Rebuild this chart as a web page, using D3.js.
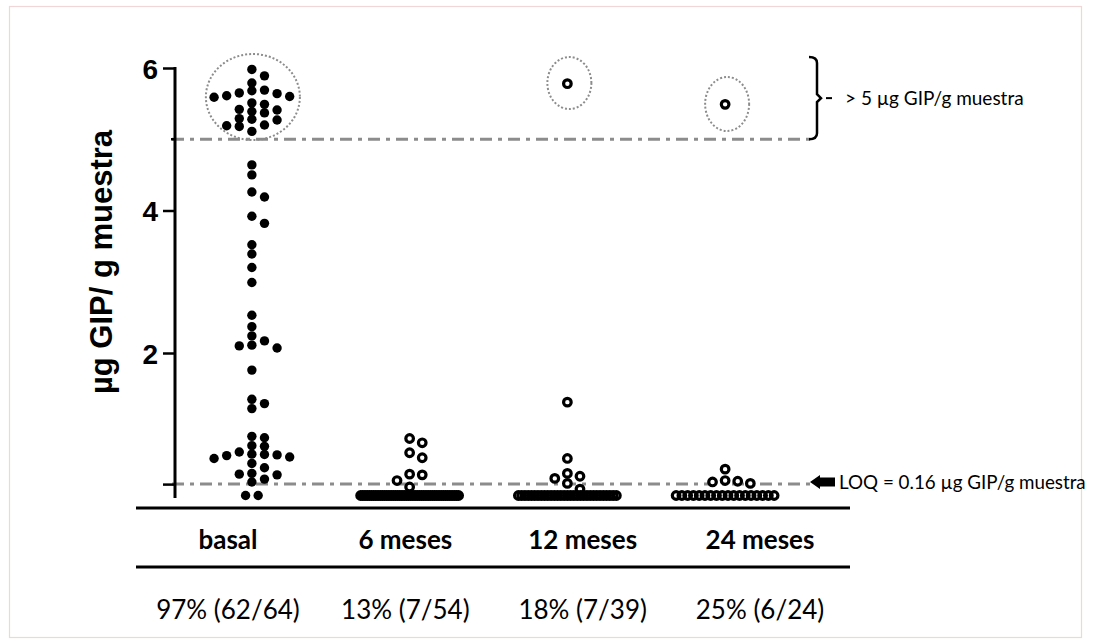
<!DOCTYPE html>
<html><head><meta charset="utf-8">
<script src="https://cdn.jsdelivr.net/npm/d3@7"></script>
<style>body{margin:0;background:#fff} svg{display:block}</style>
</head><body><svg id="c" width="1094" height="644"></svg>
<script>
// ---------- data ----------
const categories = ["basal", "6 meses", "12 meses", "24 meses"];
const pctLabels = ["97% (62/64)", "13% (7/54)", "18% (7/39)", "25% (6/24)"];
const yTicks = [6, 4, 2];
const LOQ = 0.16;
const THRESH = 5;
const basal = [5.98, 5.89, 5.79, 5.65, 5.61, 5.68, 5.59, 5.69, 5.60, 5.64, 5.49, 5.51, 5.41, 5.39, 5.28, 5.29, 5.19, 5.27, 5.37, 5.42, 5.18, 5.20, 5.11,
  4.64, 4.50, 4.26, 4.19, 3.92, 3.82, 3.52, 3.39, 3.20, 2.99, 2.53, 2.37,
  2.24, 2.10, 2.07, 2.11, 2.17, 1.76, 1.35, 1.22, 1.29, 0.83, 0.81, 0.69, 0.70, 0.61, 0.58, 0.57, 0.54, 0.52, 0.56, 0.575, 0.45, 0.39, 0.30, 0.23, 0.19, 0.29, 0.31, 0, 0];
const m6 = [0.80, 0.74, 0.60, 0.53, 0.30, 0.29, 0.21, 0.12,
  0,0,0,0,0,0,0,0,0,0, 0,0,0,0,0,0,0,0,0,0, 0,0,0,0,0,0,0,0,0,0, 0,0,0,0,0,0,0,0,0,0, 0,0,0,0,0,0];
const m12 = [5.78, 1.31, 0.52, 0.31, 0.27, 0.24, 0.17, 0.09,
  0,0,0,0,0,0,0,0,0,0, 0,0,0,0,0,0,0,0,0,0, 0,0,0,0,0,0,0,0,0,0, 0];
const m24 = [5.49, 0.37, 0.21, 0.20, 0.19, 0.17,
  0,0,0,0,0,0,0,0,0,0, 0,0,0,0,0,0,0,0];
const seriesList = [basal, m6, m12, m24];

// ---------- layout ----------
const svg = d3.select("#c");
const axisX = 175;
const y = d3.scaleLinear().domain([0, 6]).range([495.5, 68]);
const x = d3.scaleBand().domain(categories).range([173, 804]).padding(0);
const xLab = d3.scalePoint().domain(categories).range([228, 760]);
const lineL = 136, lineR = 850;
const calibri = "Lato, 'Open Sans', sans-serif";
const arial = "'Liberation Sans', Arial, sans-serif";

// frame
svg.append("rect").attr("x", 9.5).attr("y", 6.5).attr("width", 1072).attr("height", 631)
  .attr("fill", "none").attr("stroke", "#f0d6d6").attr("stroke-width", 1.2);

// reference lines
const dashDot = "12,6,4,6";
svg.append("line").attr("x1", axisX - 3).attr("x2", 810).attr("y1", y(THRESH)).attr("y2", y(THRESH))
  .attr("stroke", "#8c8c8c").attr("stroke-width", 3).attr("stroke-dasharray", dashDot);
svg.append("line").attr("x1", axisX - 3).attr("x2", 811).attr("y1", y(LOQ)).attr("y2", y(LOQ))
  .attr("stroke", "#8c8c8c").attr("stroke-width", 3).attr("stroke-dasharray", dashDot);

// y axis
const yAxis = d3.axisLeft(y).tickValues([...yTicks, LOQ]).tickSize(12).tickPadding(5)
  .tickFormat(d => yTicks.includes(d) ? d3.format("d")(d) : "");
const gy = svg.append("g").attr("transform", `translate(${axisX},0)`).call(yAxis);
gy.select(".domain").remove();
gy.append("line").attr("x1", 0).attr("x2", 0).attr("y1", y(6) - 1).attr("y2", 498)
  .attr("stroke", "#000").attr("stroke-width", 3);
gy.selectAll(".tick line").attr("stroke", "#000").attr("stroke-width", 2.5);
gy.selectAll(".tick text").attr("font-family", arial).attr("font-weight", "bold")
  .attr("font-size", 28).attr("fill", "#000").attr("dy", "0.36em");
gy.append("line").attr("x1", -4).attr("x2", 0).attr("y1", y(THRESH)).attr("y2", y(THRESH))
  .attr("stroke", "#000").attr("stroke-width", 2.5);

// y title
svg.append("text").attr("transform", `translate(112,262) rotate(-90)`)
  .attr("text-anchor", "middle").attr("font-family", arial).attr("font-weight", "bold")
  .attr("font-size", 31).attr("fill", "#000").text("µg GIP/ g muestra");

// swarm layout
function swarm(values, cx) {
  const step = 12.6, diam = 7.5, maxW = 98;
  const zeros = values.filter(v => v === 0);
  const others = values.filter(v => v !== 0).slice().sort((a, b) => b - a);
  const placed = [];
  others.forEach(v => {
    const py = y(v);
    for (let k = 0; k < 40; k++) {
      const off = k === 0 ? 0 : (k % 2 === 1 ? Math.ceil(k / 2) : -Math.ceil(k / 2));
      if (!placed.some(p => p.off === off && Math.abs(p.py - py) < diam)) {
        placed.push({ v, py, off, px: cx + off * step }); break;
      }
    }
  });
  const n = zeros.length;
  const sp = n > 1 ? Math.min(step, maxW / (n - 1)) : 0;
  zeros.forEach((v, i) => placed.push({ v, py: y(v), px: cx + (i - (n - 1) / 2) * sp }));
  return placed;
}

categories.forEach((c, i) => {
  const cx = x(c) + x.bandwidth() / 2;
  const pts = swarm(seriesList[i], cx);
  const g = svg.append("g");
  if (i === 0) {
    g.selectAll("circle").data(pts).join("circle")
      .attr("cx", d => d.px).attr("cy", d => d.py).attr("r", 4.7).attr("fill", "#000");
  } else {
    // pass 1: white interiors, pass 2: rings on top
    g.append("g").selectAll("circle").data(pts).join("circle")
      .attr("cx", d => d.px).attr("cy", d => d.py).attr("r", 3.8).attr("fill", "#fff");
    g.append("g").selectAll("circle").data(pts).join("circle")
      .attr("cx", d => d.px).attr("cy", d => d.py).attr("r", 3.8)
      .attr("fill", "none").attr("stroke", "#000").attr("stroke-width", 3.2);
  }
});

// dotted ellipses around > 5 points
const ell = [
  { c: "basal", cy: 97, rx: 47, ry: 43 },
  { c: "12 meses", cy: 83, rx: 22, ry: 26 },
  { c: "24 meses", cy: 104, rx: 22, ry: 27 }
];
svg.selectAll("ellipse.e").data(ell).join("ellipse")
  .attr("cx", d => x(d.c) + x.bandwidth() / 2 + (d.c === "basal" ? 1 : 2))
  .attr("cy", d => d.cy).attr("rx", d => d.rx).attr("ry", d => d.ry)
  .attr("fill", "none").attr("stroke", "#8c8c8c").attr("stroke-width", 2).attr("stroke-dasharray", "2,2");

// bracket
const bx = 817, bt = 57, bb = y(THRESH), bm = (bt + bb) / 2;
svg.append("path")
  .attr("d", `M${bx - 8},${bt} Q${bx},${bt} ${bx},${bt + 6} L${bx},${bm - 4} L${bx + 4},${bm} L${bx},${bm + 4} L${bx},${bb - 6} Q${bx},${bb} ${bx - 8},${bb}`)
  .attr("fill", "none").attr("stroke", "#000").attr("stroke-width", 2.5);
svg.append("line").attr("x1", bx + 9).attr("x2", bx + 15).attr("y1", bm).attr("y2", bm)
  .attr("stroke", "#000").attr("stroke-width", 2);
svg.append("text").attr("x", 845).attr("y", bm + 7).attr("font-family", calibri)
  .attr("font-size", 19).attr("fill", "#000").text("> 5 µg GIP/g muestra");

// LOQ arrow
const ay = y(LOQ) - 2;
svg.append("path")
  .attr("d", `M810,${ay} L820,${ay - 7} L820,${ay - 4.5} L835,${ay - 4.5} L835,${ay + 4.5} L820,${ay + 4.5} L820,${ay + 7} Z`)
  .attr("fill", "#000");
svg.append("text").attr("x", 839).attr("y", ay + 7).attr("font-family", calibri)
  .attr("font-size", 18.8).attr("fill", "#000").text("LOQ = 0.16 µg GIP/g muestra");

// horizontal table lines
[508, 567].forEach(yy => svg.append("line").attr("x1", lineL).attr("x2", lineR)
  .attr("y1", yy).attr("y2", yy).attr("stroke", "#000").attr("stroke-width", 3));

// category labels
svg.selectAll("text.cat").data(categories).join("text").attr("class", "cat")
  .attr("x", d => xLab(d)).attr("y", 549).attr("text-anchor", "middle")
  .attr("font-family", calibri).attr("font-weight", "bold").attr("font-size", 26)
  .attr("fill", "#000").text(d => d);

// percent labels
svg.selectAll("text.pct").data(pctLabels).join("text").attr("class", "pct")
  .attr("x", (d, i) => xLab(categories[i])).attr("y", 619).attr("text-anchor", "middle")
  .attr("font-family", calibri).attr("font-size", 26)
  .attr("fill", "#000").text(d => d);
</script></body></html>
